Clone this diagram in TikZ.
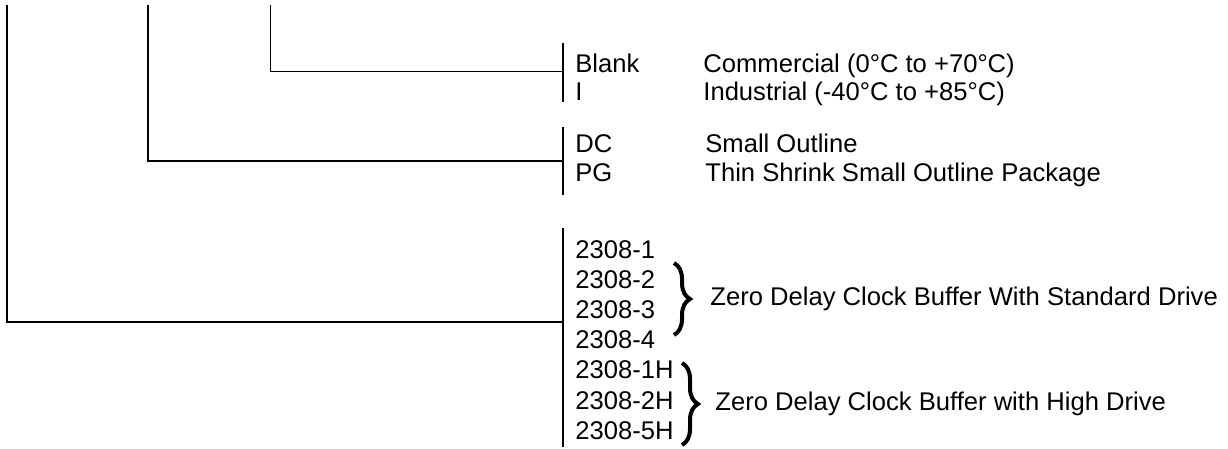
\documentclass[tikz,border=0pt]{standalone}
\usepackage{fontspec}
\setmainfont{Liberation Sans}
\usetikzlibrary{positioning, decorations.pathreplacing}

\begin{document}
\begin{tikzpicture}[x=0.5pt, y=-0.5pt,
    font=\fontsize{12.8}{15}\selectfont,
    lbl/.style={anchor=base west, inner sep=0pt},
    desc/.style={anchor=west, inner sep=0pt},
    branch/.style={line width=1pt},
    thinbranch/.style={line width=0.5pt},
    optbar/.style={line width=1pt},
    grpbrace/.style={decorate, decoration={brace, amplitude=8pt}, line width=2pt}]
  \useasboundingbox (0,0) rectangle (1228,449);

  % ends of the tree branches
  \coordinate (partTop) at (7,5);
  \coordinate (pkgTop) at (148,5);
  \coordinate (tempTop) at (270,5);

  % option bars
  \coordinate (tempBarT) at (563,43);  \coordinate (tempBarB) at (563,102);
  \coordinate (pkgBarT) at (563,127);  \coordinate (pkgBarB) at (563,195);
  \coordinate (partBarT) at (563,228); \coordinate (partBarB) at (563,447);
  \coordinate (tempJoin) at (563,72);
  \coordinate (pkgJoin) at (563,161);
  \coordinate (partJoin) at (563,322);

  \draw[optbar] (tempBarT) -- (tempBarB);
  \draw[optbar] (pkgBarT) -- (pkgBarB);
  \draw[optbar] (partBarT) -- (partBarB);

  \draw[thinbranch] (tempTop) |- (tempJoin);
  \draw[branch] (pkgTop) |- (pkgJoin);
  \draw[branch] (partTop) |- (partJoin);

  % temperature range
  \node[lbl] (blank) at (575,73) {Blank};
  \node[lbl] (ind) at (575,101) {I};
  \node[lbl] (blankDesc) at (703,73) {Commercial (0°C to +70°C)};
  \node[lbl] (indDesc) at (703,101) {Industrial (-40°C to +85°C)};

  % package
  \node[lbl] (dc) at (575,153) {DC};
  \node[lbl] (pg) at (575,182) {PG};
  \node[lbl] (dcDesc) at (705,153) {Small Outline};
  \node[lbl] (pgDesc) at (705,182) {Thin Shrink Small Outline Package};

  % part numbers
  \foreach \i/\txt in {1/2308-1, 2/2308-2, 3/2308-3, 4/2308-4,
                       5/2308-1H, 6/2308-2H, 7/2308-5H}
    \node[lbl] (dev\i) at (575,{229+30*\i}) {\txt};

  \coordinate (stdT) at (674,263);  \coordinate (stdB) at (674,335);
  \coordinate (highT) at (682,363); \coordinate (highB) at (682,445);
  \draw[grpbrace] (stdT) -- (stdB);
  \draw[grpbrace] (highT) -- (highB);

  \node[desc] (stdDesc) at (710,299) {Zero Delay Clock Buffer With Standard Drive};
  \node[desc] (highDesc) at (715,404) {Zero Delay Clock Buffer with High Drive};
\end{tikzpicture}
\end{document}
